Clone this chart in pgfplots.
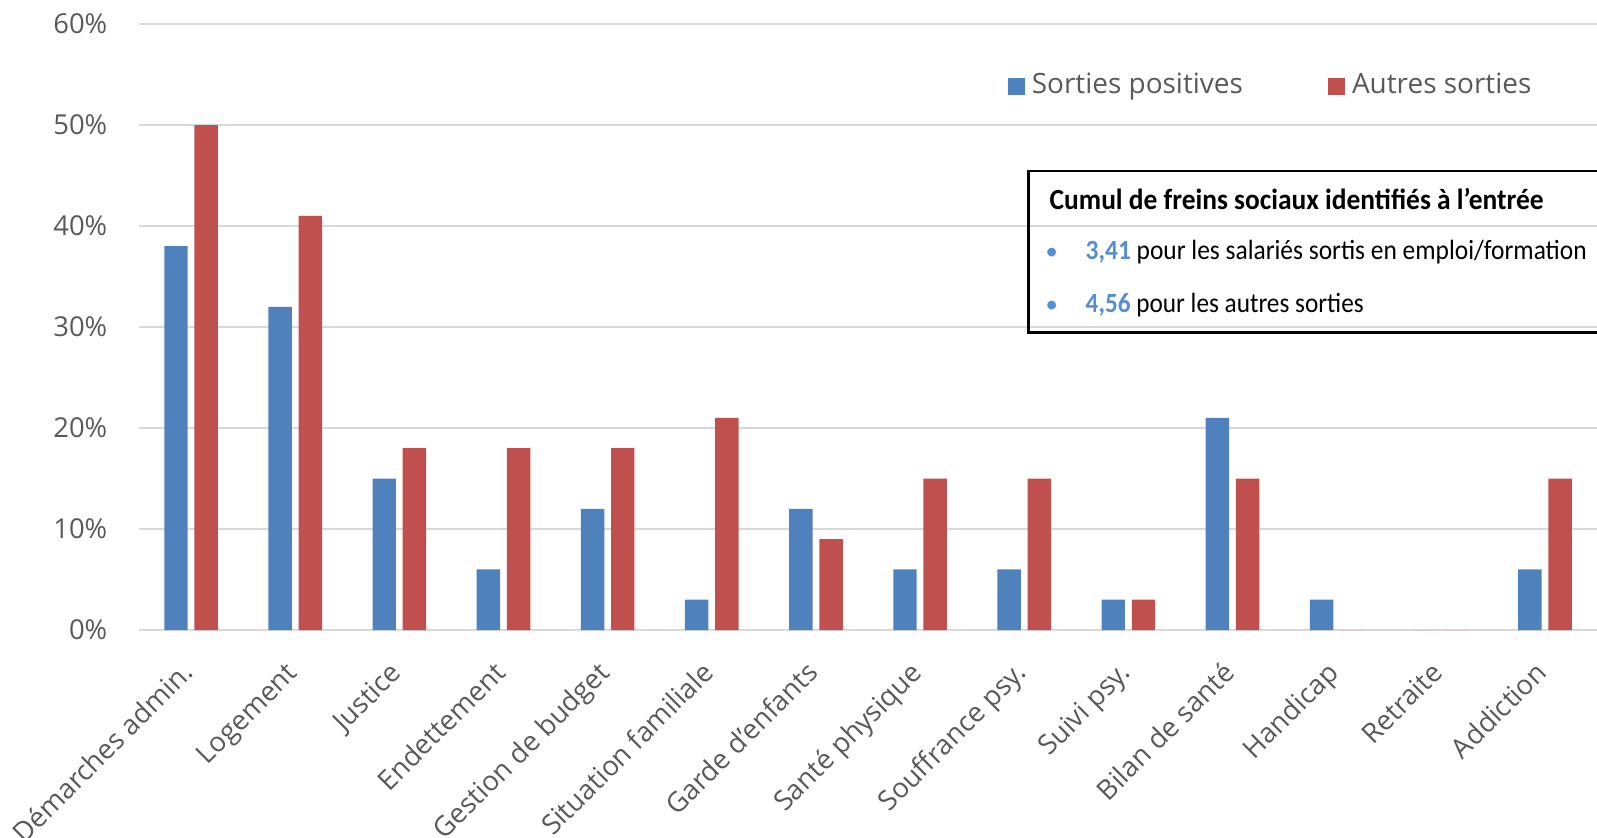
\documentclass[border=0pt]{standalone}
\usepackage{fontspec}
\setmainfont{Open Sans}
\newfontfamily\carlito{Carlito}
\usepackage{pgfplots}
\usepackage{pgfplotstable}
\usepackage{graphicx}
\pgfplotsset{compat=1.18}
\definecolor{cblue}{HTML}{4F81BD}
\definecolor{cred}{HTML}{C0504D}
\definecolor{cgrid}{HTML}{D9D9D9}
\definecolor{ctext}{HTML}{595959}
\definecolor{cnum}{HTML}{558ED5}
\newsavebox\fitbox
\newcommand\fitto[2]{\sbox\fitbox{#2}\pgfmathsetmacro\fitratio{#1/\the\wd\fitbox}\scalebox{\fitratio}[1]{\usebox\fitbox}}
\pgfplotstableread{
x pos autres
0 38 50
1 32 41
2 15 18
3 6 18
4 12 18
5 3 21
6 12 9
7 6 15
8 6 15
9 3 3
10 21 15
11 3 0
12 0 0
13 6 15
}\data
\begin{document}
\begin{tikzpicture}
\begin{axis}[
  at={(0,0)}, anchor=south west,
  scale only axis, width=14.58cm, height=6.06cm,
  xmin=-0.5, xmax=13.5, ymin=0, ymax=60,
  axis line style={draw=none},
  tick style={draw=none},
  major tick length=0pt,
  ymajorgrids, grid style={cgrid, line width=0.6pt},
  ytick={0,10,...,60},
  yticklabel={\pgfmathprintnumber{\tick}\%},
  yticklabel style={anchor=east, inner sep=0pt, xshift=-3.1mm, text=ctext, font=\fontsize{7.8}{9}\selectfont},
  xtick={0,...,13},
  xticklabels={Démarches admin., Logement, Justice, Endettement, Gestion de budget, Situation familiale, Garde d'enfants, Santé physique, Souffrance psy., Suivi psy., Bilan de santé, Handicap, Retraite, Addiction},
  xticklabel style={xshift=0.4mm, yshift=-4.4mm, rotate=45, anchor=base east, inner sep=0pt, text=ctext, font=\fontsize{7.8}{9}\selectfont},
  /pgf/number format/assume math mode=true,
  legend columns=2,
  legend style={at={(0.5954,0.8975)}, anchor=west, draw=none, fill=none, inner sep=0pt,
    font=\fontsize{7.95}{10}\selectfont, text=ctext,
    /tikz/every even column/.append style={column sep=7.8mm}},
]
\addplot[fill=cblue, draw=none, ybar, bar width=0.225, bar shift=-0.145,
  legend image code/.code={\fill[cblue] (0mm,-0.85mm) rectangle (1.7mm,0.85mm);}]
  table[x=x, y=pos]{\data};
\addlegendentry{Sorties positives}
\addplot[fill=cred, draw=none, ybar, bar width=0.225, bar shift=0.145,
  legend image code/.code={\fill[cred] (0mm,-0.85mm) rectangle (1.7mm,0.85mm);}]
  table[x=x, y=autres]{\data};
\addlegendentry{Autres sorties}
\end{axis}
\draw[line width=0.7pt] (8.893,2.975) rectangle (15,4.59);
\node[anchor=base west, inner sep=0pt] at (9.10,4.20) {\fitto{4.94cm}{\carlito\bfseries\fontsize{8.3}{10}\selectfont Cumul de freins sociaux identifiés à l’entrée}};
\node[anchor=base, inner sep=0pt, text=cnum] at (9.127,3.70) {\carlito\fontsize{7}{10}\selectfont •};
\node[anchor=base, inner sep=0pt, text=cnum] at (9.127,3.173) {\carlito\fontsize{7}{10}\selectfont •};
\node[anchor=base west, inner sep=0pt] at (9.46,3.70) {\fitto{5.01cm}{\carlito\fontsize{7.9}{10}\selectfont{\bfseries\color{cnum}3,41} pour les salariés sortis en emploi/formation}};
\node[anchor=base west, inner sep=0pt] at (9.46,3.173) {\fitto{2.78cm}{\carlito\fontsize{7.9}{10}\selectfont{\bfseries\color{cnum}4,56} pour les autres sorties}};
\pgfresetboundingbox
\path[use as bounding box] (-1.39,-2.07) rectangle (14.58,6.30);
\end{tikzpicture}
\end{document}
